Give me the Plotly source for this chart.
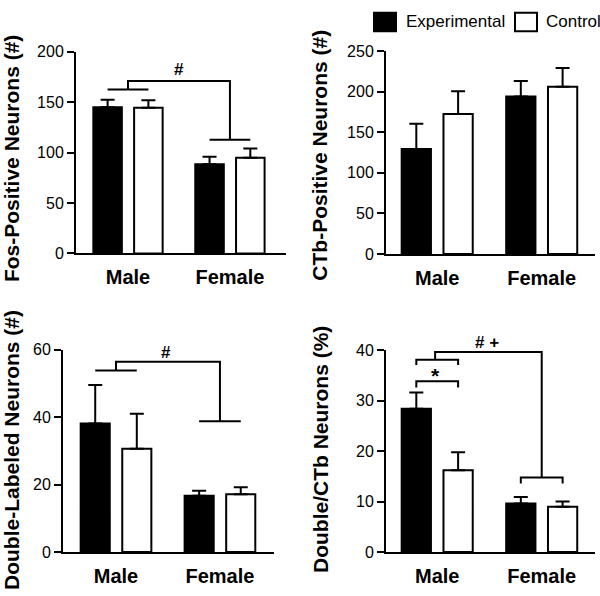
import plotly.graph_objects as go

W, H = 600, 596

groups = ["Male", "Female"]
series = ["Experimental", "Control"]

# Panel A: Fos-Positive Neurons (#)
fos_exp = [145.0, 88.5]
fos_exp_err = [7.5, 7.5]
fos_ctl = [144.5, 95.0]
fos_ctl_err = [7.5, 9.0]

# Panel B: CTb-Positive Neurons (#)
ctb_exp = [129.5, 194.0]
ctb_exp_err = [31.0, 19.0]
ctb_ctl = [172.5, 206.0]
ctb_ctl_err = [28.0, 23.0]

# Panel C: Double-Labeled Neurons (#)
dbl_exp = [38.1, 16.7]
dbl_exp_err = [11.4, 1.5]
dbl_ctl = [30.6, 17.1]
dbl_ctl_err = [10.4, 2.1]

# Panel D: Double/CTb Neurons (%)
pct_exp = [28.4, 9.6]
pct_exp_err = [3.2, 1.3]
pct_ctl = [16.2, 9.0]
pct_ctl_err = [3.6, 1.0]

y_titles = ["Fos-Positive Neurons (#)", "CTb-Positive Neurons (#)",
            "Double-Labeled Neurons (#)", "Double/CTb Neurons (%)"]
y_ranges = [[0, 200], [0, 250], [0, 60], [0, 40]]
y_dticks = [50, 50, 20, 10]

FONT = "Liberation Sans, Arial, Helvetica, sans-serif"


def px_x(p):
    return p / W


def px_y(p):
    return 1 - p / H


# panel geometry (pixels): x0, x1, ytop, ybottom
panels = [
    (76, 286, 45, 252.7),
    (386, 595, 44.3, 253.3),
    (63, 274, 351.7, 560),
    (386, 595, 352.3, 560),
]
x_ranges = [[-0.51, 1.55], [-0.49, 1.51], [-0.51, 1.52], [-0.49, 1.51]]
title_pos = [(11, 155.5), (320, 152), (11, 455), (320, 455)]

data_sets = [
    (fos_exp, fos_exp_err, fos_ctl, fos_ctl_err),
    (ctb_exp, ctb_exp_err, ctb_ctl, ctb_ctl_err),
    (dbl_exp, dbl_exp_err, dbl_ctl, dbl_ctl_err),
    (pct_exp, pct_exp_err, pct_ctl, pct_ctl_err),
]

fig = go.Figure()
layout = dict(
    width=W, height=H, margin=dict(l=0, r=0, t=0, b=0),
    paper_bgcolor="white", plot_bgcolor="white",
    barmode="group", bargap=0.2, bargroupgap=0.3,
    showlegend=False, font=dict(family=FONT, color="black"),
)
shapes = []
annotations = []

for i, (ds, geo) in enumerate(zip(data_sets, panels)):
    n = "" if i == 0 else str(i + 1)
    xa, ya = "x" + n, "y" + n
    exp_v, exp_e, ctl_v, ctl_e = ds
    for vals, errs, name, fill in [(exp_v, exp_e, series[0], "black"),
                                   (ctl_v, ctl_e, series[1], "white")]:
        fig.add_trace(go.Bar(
            x=groups, y=vals, name=name, xaxis=xa, yaxis=ya,
            marker=dict(color=fill, line=dict(color="black", width=2)),
            error_y=dict(type="data", symmetric=False, array=errs,
                         arrayminus=[0] * len(errs), color="black",
                         thickness=2, width=7),
            showlegend=False,
        ))
    x0, x1, yt, yb = geo
    layout["xaxis" + n] = dict(
        domain=[px_x(x0), px_x(x1)], anchor=ya, range=x_ranges[i],
        showline=True, linewidth=2, linecolor="black", ticks="",
        showgrid=False, zeroline=False, ticklabelstandoff=5,
        tickfont=dict(size=20, weight="bold", color="black", family=FONT),
    )
    layout["yaxis" + n] = dict(
        domain=[px_y(yb), px_y(yt)], anchor=xa, range=y_ranges[i],
        dtick=y_dticks[i], showline=True, linewidth=2, linecolor="black",
        ticks="outside", ticklen=7, tickwidth=2, tickcolor="black",
        showgrid=False, zeroline=False,
        tickfont=dict(size=16, color="black", family=FONT),
    )
    tx, ty = title_pos[i]
    annotations.append(dict(
        text=y_titles[i], xref="paper", yref="paper", x=px_x(tx), y=px_y(ty),
        textangle=-90, showarrow=False, xanchor="center", yanchor="middle",
        font=dict(size=21, weight="bold", color="black", family=FONT)))


def line(xref, yref, xs, ys):
    shapes.append(dict(type="path", xref=xref, yref=yref,
                       path="M" + " L".join(f"{a},{b}" for a, b in zip(xs, ys)),
                       line=dict(color="black", width=2)))


# Panel A bracket
line("x", "y", [-0.2, 0.2], [162.5, 162.5])
line("x", "y", [0, 0, 1, 1], [162.5, 171, 171, 112.8])
line("x", "y", [0.8, 1.2], [112.8, 112.8])
annotations.append(dict(text="<b>#</b>", x=0.5, y=182, xref="x", yref="y",
                        showarrow=False, yanchor="middle",
                        font=dict(size=17, color="black", family=FONT)))

# Panel C bracket
line("x3", "y3", [-0.2, 0.2], [53.8, 53.8])
line("x3", "y3", [0, 0, 1, 1], [53.8, 56.4, 56.4, 38.8])
line("x3", "y3", [0.8, 1.2], [38.8, 38.8])
annotations.append(dict(text="<b>#</b>", x=0.48, y=59.2, xref="x3", yref="y3",
                        showarrow=False, yanchor="middle",
                        font=dict(size=17, color="black", family=FONT)))

# Panel D brackets
line("x4", "y4", [-0.2, -0.2, 0.2, 0.2], [32.6, 33.85, 33.85, 32.6])
annotations.append(dict(text="<b>*</b>", x=-0.02, y=35.0, xref="x4", yref="y4",
                        showarrow=False, yanchor="middle",
                        font=dict(size=21, color="black", family=FONT)))
line("x4", "y4", [-0.2, -0.2, 0.2, 0.2], [37.1, 38.13, 38.13, 37.1])
line("x4", "y4", [-0.02, -0.02, 1.0, 1.0], [38.13, 39.67, 39.67, 14.77])
line("x4", "y4", [0.8, 0.8, 1.2, 1.2], [13.6, 14.77, 14.77, 13.6])
annotations.append(dict(text="<b># +</b>", x=0.48, y=40, yshift=8,
                        xref="x4", yref="y4",
                        showarrow=False, yanchor="middle",
                        font=dict(size=17, color="black", family=FONT)))

# Legend (manual, to match large square swatches)
shapes.append(dict(type="rect", xref="paper", yref="paper",
                   x0=px_x(374), x1=px_x(396), y0=px_y(24), y1=px_y(5),
                   fillcolor="black", line=dict(color="black", width=2)))
shapes.append(dict(type="rect", xref="paper", yref="paper",
                   x0=px_x(515), x1=px_x(537), y0=px_y(24), y1=px_y(5),
                   fillcolor="white", line=dict(color="black", width=2)))
annotations.append(dict(text=series[0], xref="paper", yref="paper",
                        x=px_x(404), y=px_y(14), xanchor="left", yanchor="middle",
                        showarrow=False, font=dict(size=17, color="black", family=FONT)))
annotations.append(dict(text=series[1], xref="paper", yref="paper",
                        x=px_x(544), y=px_y(14), xanchor="left", yanchor="middle",
                        showarrow=False, font=dict(size=17, color="black", family=FONT)))

layout["shapes"] = shapes
layout["annotations"] = annotations
fig.update_layout(**layout)
fig.write_html("out.html",
               config={"displayModeBar": False},
               post_script="document.body.style.margin='0px';"
                           "document.body.style.overflow='hidden';")
